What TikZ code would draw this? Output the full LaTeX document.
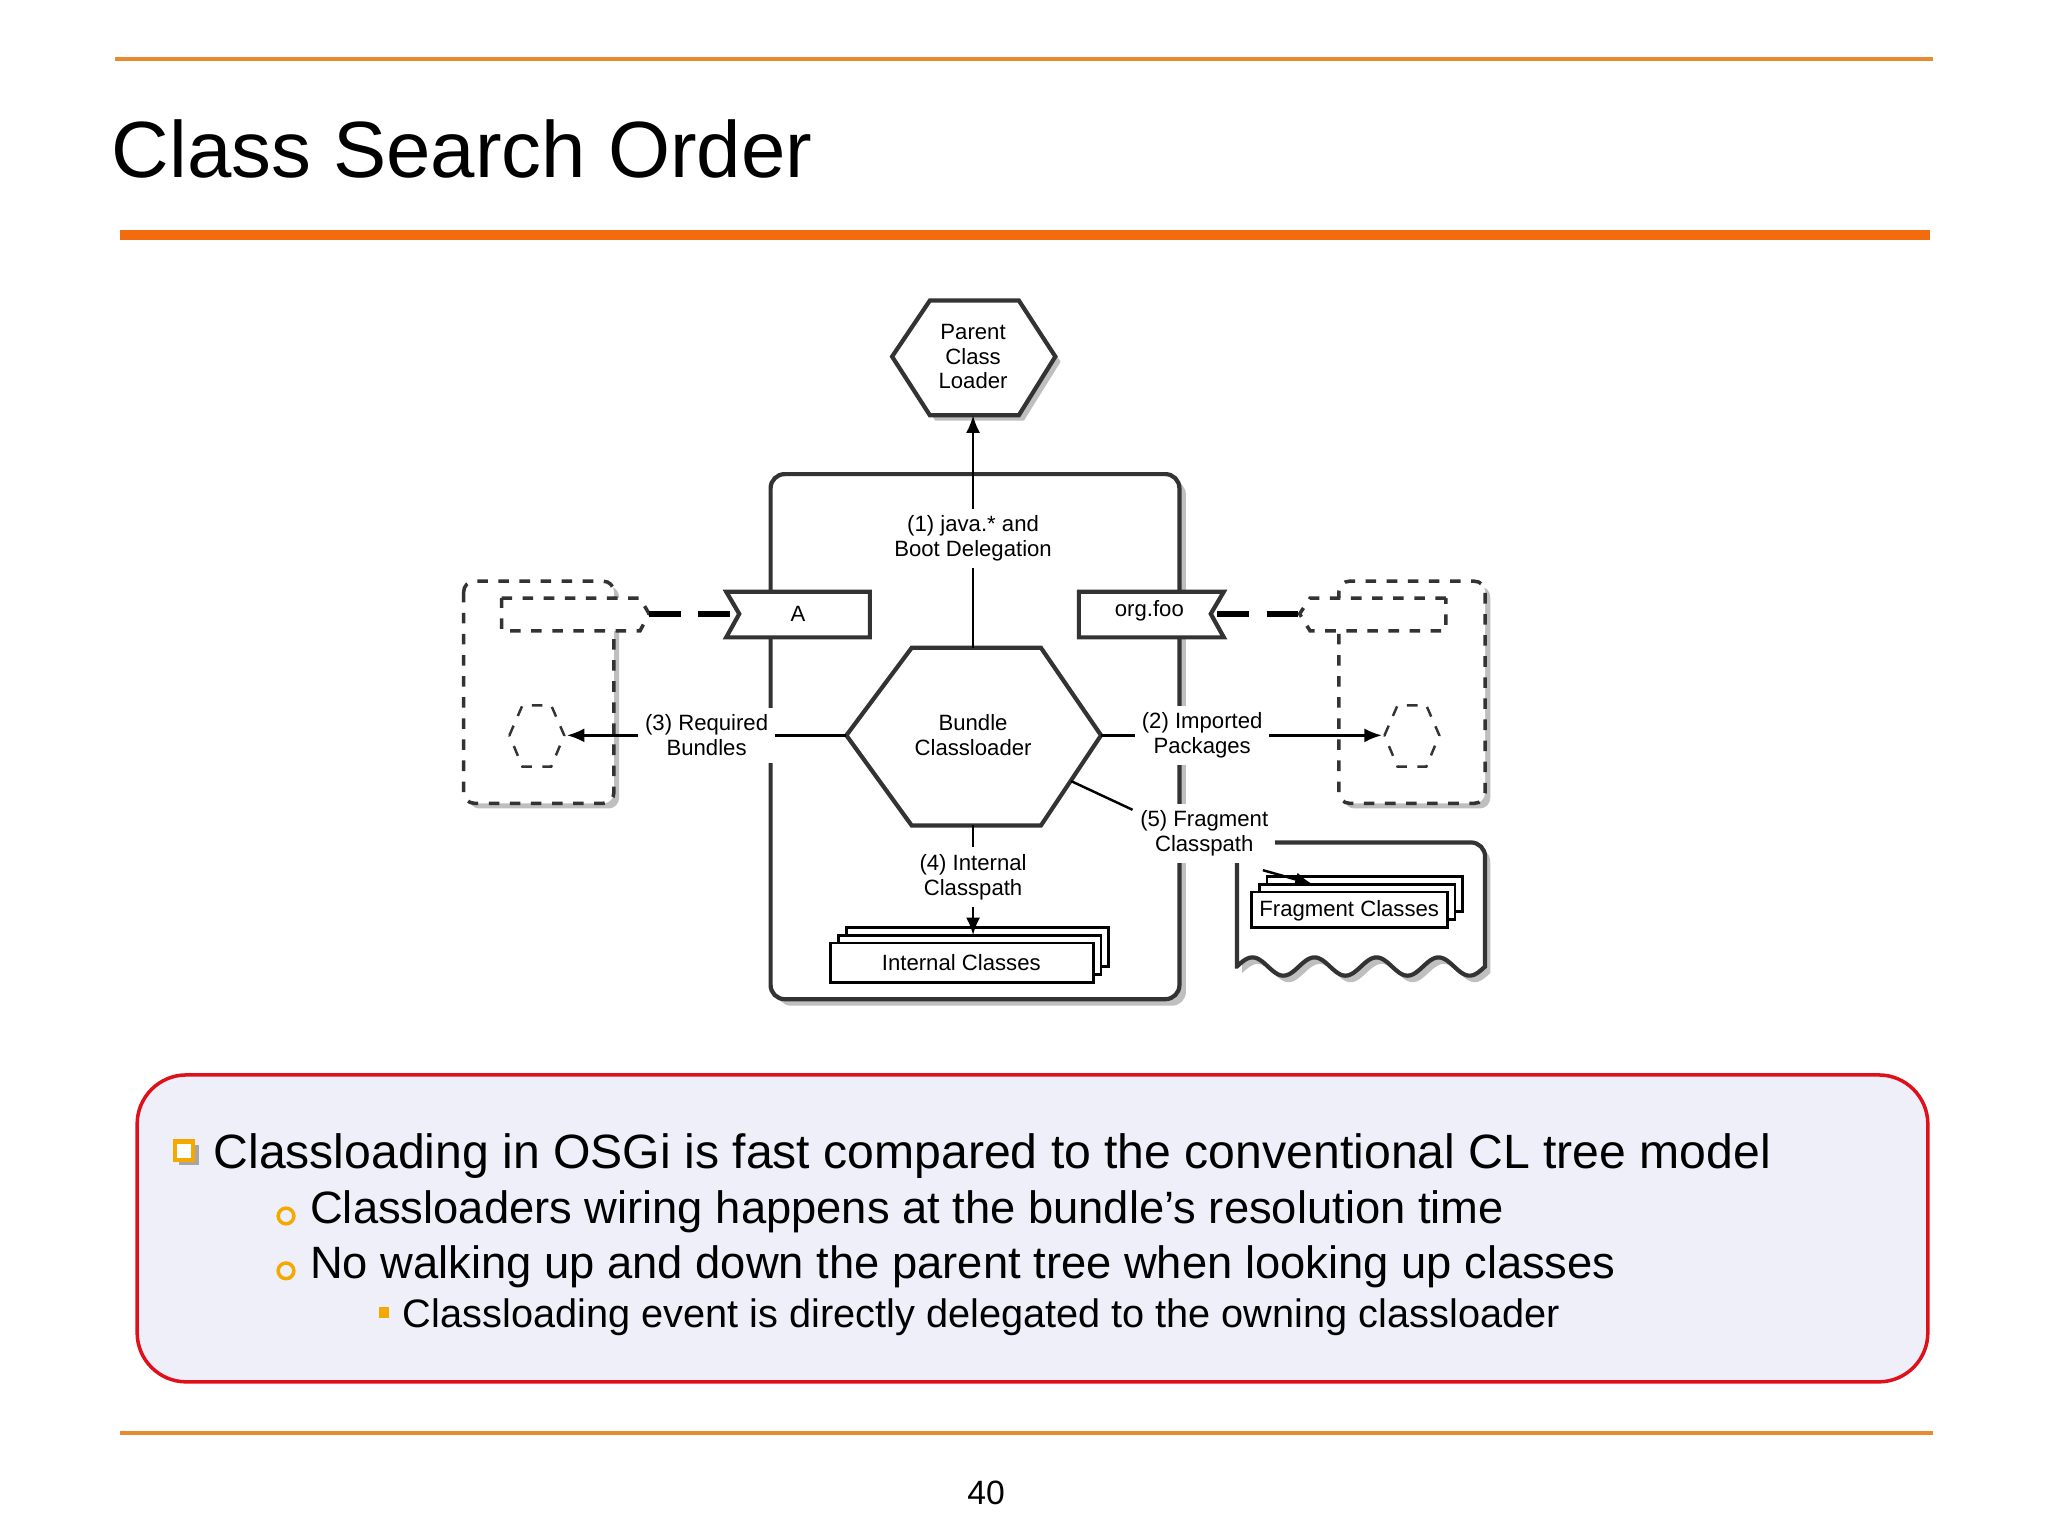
\documentclass[tikz,border=0pt]{standalone}
\usepackage{fontspec}
\setmainfont{Liberation Sans}
\usetikzlibrary{arrows.meta, calc}
\definecolor{orng}{HTML}{F26B0F}
\definecolor{lorng}{HTML}{E88A2E}
\definecolor{callred}{HTML}{E0101A}
\definecolor{callfill}{HTML}{EFEFF9}
\definecolor{bul}{HTML}{F5A800}
\begin{document}
\begin{tikzpicture}[x=0.01306cm, y=-0.01306cm,
    dtext/.style={font=\fontsize{6.3}{7}\selectfont, align=center, inner sep=1pt, fill=white},
    lbl/.style={dtext, fill=white, inner sep=2pt},
    box/.style={draw=black!80, line width=1.2pt},
    dbox/.style={draw=black!80, line width=1pt, dashed},
    shadow/.style={fill=black!25, draw=none},
    arr/.style={-{Latex[length=5pt,width=4pt]}, line width=0.7pt},
    big/.style={font=\fontsize{13.7}{16}\selectfont, anchor=base west, inner sep=0},
    mid/.style={font=\fontsize{12.9}{15}\selectfont, anchor=base west, inner sep=0},
    sml/.style={font=\fontsize{11.3}{14}\selectfont, anchor=base west, inner sep=0}]
\useasboundingbox (0,0) rectangle (1568,1176);
\fill[white] (0,0) rectangle (1568,1176);

% slide frame
\draw[lorng, line width=1pt] (88,45) -- (1480,45);
\node[anchor=base west, inner sep=0, font=\fontsize{22.7}{27}\selectfont] (title) at (85,136) {Class Search Order};
\draw[orng, line width=3pt] (92,180) -- (1478,180);
\draw[lorng, line width=1pt] (92,1097) -- (1480,1097);
\node[font=\fontsize{9.6}{11}\selectfont] (page) at (755,1143) {40};

% bundle frame
\fill[shadow, rounded corners=4pt] (595,368) rectangle (908,770);
\draw[box, fill=white, rounded corners=4pt] (590,363) rectangle (903,765);

% parent class loader
\fill[shadow] (687,277) -- (716,234) -- (784,234) -- (812,277) -- (784,322) -- (716,322) -- cycle;
\draw[box, fill=white] (683,273) -- (712,230) -- (780,230) -- (808,273) -- (780,318) -- (712,318) -- cycle;
\node[dtext, fill=none] (parent) at (745,273) {Parent\\Class\\Loader};
\coordinate (parentB) at (745,318);

% bundle classloader
\draw[box, fill=white] (648,563) -- (698,496) -- (797,496) -- (843,563) -- (797,632) -- (698,632) -- cycle;
\node[dtext, fill=none] (bundle) at (745,563) {Bundle\\Classloader};
\coordinate (bT) at (745,496);
\coordinate (bL) at (648,563);
\coordinate (bR) at (843,563);
\coordinate (bB) at (745,632);
\coordinate (bBR) at (820,598);

% tags
\draw[box, fill=white] (556,453) -- (666,453) -- (666,488) -- (556,488) -- (566,470) -- cycle;
\node[dtext, fill=none] (A) at (611,470) {A};
\coordinate (Aw) at (560,470);
\draw[box, fill=white] (826,453) -- (937,453) -- (927,470) -- (937,488) -- (826,488) -- cycle;
\node[dtext, fill=none] (orgfoo) at (880,468) {org.foo};
\coordinate (Oe) at (932,470);

% left dashed bundle
\fill[shadow, rounded corners=3pt] (359,449) rectangle (474,619);
\draw[dbox, fill=white, rounded corners=3pt] (355,445) rectangle (470,615);
\draw[dbox, fill=white] (384,458) -- (490,458) -- (497,470) -- (490,483) -- (384,483) -- cycle;
\coordinate (Ltag) at (497,470);
\draw[dbox, line width=0.7pt] (390,563) -- (400,540) -- (422,540) -- (432,563) -- (422,587) -- (400,587) -- cycle;
\coordinate (Lhex) at (434,563);

% right dashed bundle
\fill[shadow, rounded corners=3pt] (1029,449) rectangle (1141,619);
\draw[dbox, fill=white, rounded corners=3pt] (1025,445) rectangle (1137,615);
\draw[dbox, fill=white] (1107,458) -- (1003,458) -- (995,470) -- (1003,483) -- (1107,483) -- cycle;
\coordinate (Rtag) at (995,470);
\draw[dbox, line width=0.7pt] (1060,563) -- (1070,540) -- (1092,540) -- (1102,563) -- (1092,587) -- (1070,587) -- cycle;
\coordinate (Rhex) at (1058,563);

% fragment
\fill[shadow] (951,745) [rounded corners=4pt] -- (951,649) -- (1141,649) [sharp corners] -- (1141,745)
   -- plot[domain=1141:951, samples=120] (\x, {745 - 7*sin(deg((\x-951)/190*8*pi))}) -- cycle;
\draw[box, fill=white] (947,740) [rounded corners=4pt] -- (947,645) -- (1137,645) [sharp corners] -- (1137,740)
   -- plot[domain=1137:947, samples=120] (\x, {740 - 7*sin(deg((\x-947)/190*8*pi))}) -- cycle;

% stacks
\foreach \d in {12,6}
  \draw[line width=0.8pt, fill=white] (636+\d,722-\d) rectangle (837+\d,752-\d);
\draw[line width=0.8pt, fill=white] (636,722) rectangle (837,752);
\node[dtext, fill=none] (internal) at (736,737) {Internal Classes};
\coordinate (intT) at (745,716);
\foreach \d in {12,6}
  \draw[line width=0.8pt, fill=white] (958+\d,683-\d) rectangle (1108+\d,710-\d);
\draw[line width=0.8pt, fill=white] (958,683) rectangle (1108,710);
\node[dtext, fill=none] (fragcl) at (1033,697) {Fragment Classes};
\coordinate (fragT) at (1005,677);

% connectors
\draw[arr] (bT) -- (parentB) node[lbl, pos=0.47] (l1) {(1) java.* and\\Boot Delegation};
\draw[arr] (bL) -- (Lhex) node[lbl, pos=0.5] (l3) {(3) Required\\Bundles};
\draw[arr] (bR) -- (Rhex) node[lbl, pos=0.36] (l2) {(2) Imported\\Packages};
\draw[arr] (bB) -- (intT) node[lbl, pos=0.47] (l4) {(4) Internal\\Classpath};
\node[lbl] (l5) at (922,638) {(5) Fragment\\Classpath};
\draw[line width=0.7pt] (bBR) -- (l5.west |- 0,620);
\draw[arr] (l5.south east) ++(-10,5) -- (fragT);
\draw[line width=1.6pt, dash pattern=on 9pt off 5pt] (Ltag) -- (Aw);
\draw[line width=1.6pt, dash pattern=on 9pt off 5pt] (Oe) -- (Rtag);

% callout
\draw[callred, line width=1pt, fill=callfill, rounded corners=14pt] (105,823) rectangle (1476,1058);
\fill[black!35] (137,877) rectangle (152,892);
\draw[bul, line width=1.2pt, fill=white] (134,874) rectangle (148,888);
\node[big] (t1) at (163,895) {Classloading in OSGi is fast compared to the conventional CL tree model};
\draw[bul, line width=1pt] (219,931) circle (6);
\node[mid] (t2) at (237,937) {Classloaders wiring happens at the bundle’s resolution time};
\draw[bul, line width=1pt] (219,973) circle (6);
\node[mid] (t3) at (237,979) {No walking up and down the parent tree when looking up classes};
\fill[bul] (290,1001) rectangle (298,1009);
\node[sml] (t4) at (308,1016) {Classloading event is directly delegated to the owning classloader};
\end{tikzpicture}
\end{document}
